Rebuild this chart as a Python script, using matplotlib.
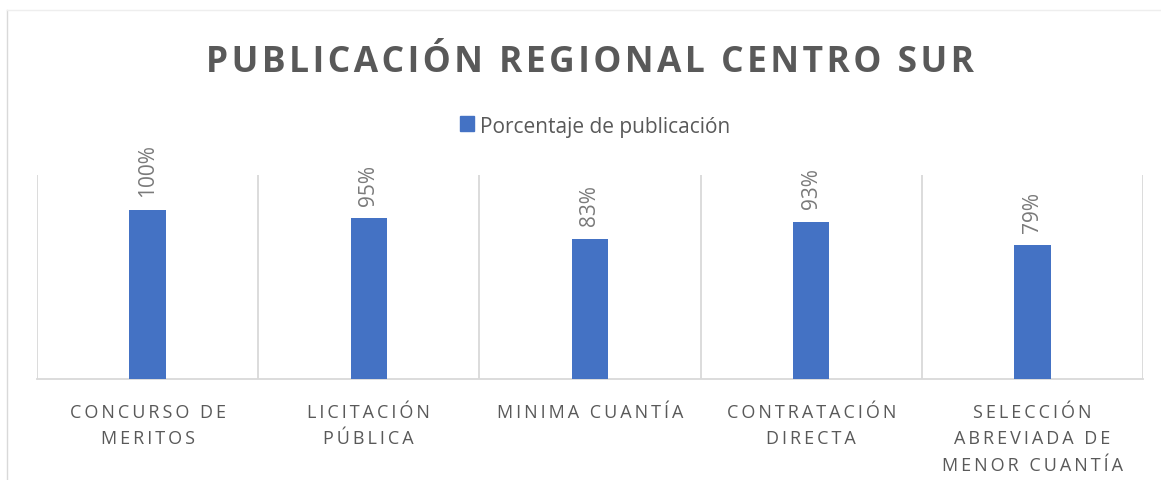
import matplotlib.pyplot as plt
from matplotlib.lines import Line2D
from matplotlib.patches import Rectangle

categorias = ["CONCURSO DE\nMERITOS", "LICITACIÓN\nPÚBLICA", "MINIMA CUANTÍA",
              "CONTRATACIÓN\nDIRECTA", "SELECCIÓN\nABREVIADA DE\nMENOR CUANTÍA"]
porcentajes = [1.00, 0.95, 0.83, 0.93, 0.79]
titulo = "PUBLICACIÓN REGIONAL CENTRO SUR"
serie = "Porcentaje de publicación"

azul = "#4472C4"
gris = "#595959"
rejilla = "#d9d9d9"
fuentes = ["Open Sans", "DejaVu Sans"]


def espaciado(s, sep="\u2009"):
    # simula el espaciado entre letras de Excel
    return "\n".join(sep.join(c for c in linea) for linea in s.split("\n"))


fig = plt.figure(figsize=(11.61, 4.81), dpi=100)
ax = fig.add_axes([37 / 1161, 1 - 380 / 481, (1143 - 37) / 1161, 204 / 481])

x = range(len(categorias))
barras = ax.bar(x, porcentajes, width=0.165, color=azul, zorder=3)

for xi, v in zip(x, porcentajes):
    ax.annotate(f"{v:.0%}", (xi, v), xytext=(0, 10), textcoords="offset points",
                rotation=90, ha="center", va="bottom", fontsize=15,
                color="#7a7a7a", family=fuentes)

ax.set_xlim(-0.5, len(categorias) - 0.5)
ax.set_ylim(0, 1.207)
ax.set_yticks([])
ax.set_xticks(list(x))
ax.set_xticklabels([espaciado(c) for c in categorias], fontsize=13, color=gris,
                   family=fuentes, linespacing=1.62, va="top")
ax.tick_params(axis="x", length=0, pad=17)

for b in [i - 0.5 for i in range(len(categorias) + 1)]:
    ax.axvline(b, color=rejilla, lw=1.3, zorder=1)
for lado in ["top", "right", "left"]:
    ax.spines[lado].set_visible(False)
ax.spines["bottom"].set_color(rejilla)
ax.spines["bottom"].set_linewidth(1.3)

fig.text(590 / 1161, 1 - 72 / 481, espaciado(titulo, "\u200a"), ha="center", va="baseline",
         fontsize=25.5, fontweight="bold", color=gris, family=fuentes)

# leyenda
fig.add_artist(Rectangle((460 / 1161, 1 - 132 / 481), 14 / 1161, 15 / 481,
                         transform=fig.transFigure, color=azul))
fig.text(480 / 1161, 1 - 133 / 481, serie, ha="left", va="baseline",
         fontsize=15, color=gris, family=fuentes)

# borde del área del gráfico
fig.add_artist(Line2D([7 / 1161, 7 / 1161], [0, 1 - 11 / 481],
                      transform=fig.transFigure, color=rejilla, lw=1))
fig.add_artist(Line2D([7 / 1161, 1], [1 - 11 / 481, 1 - 11 / 481],
                      transform=fig.transFigure, color="#eeeeee", lw=1))

fig.savefig("out.png", dpi=100)
